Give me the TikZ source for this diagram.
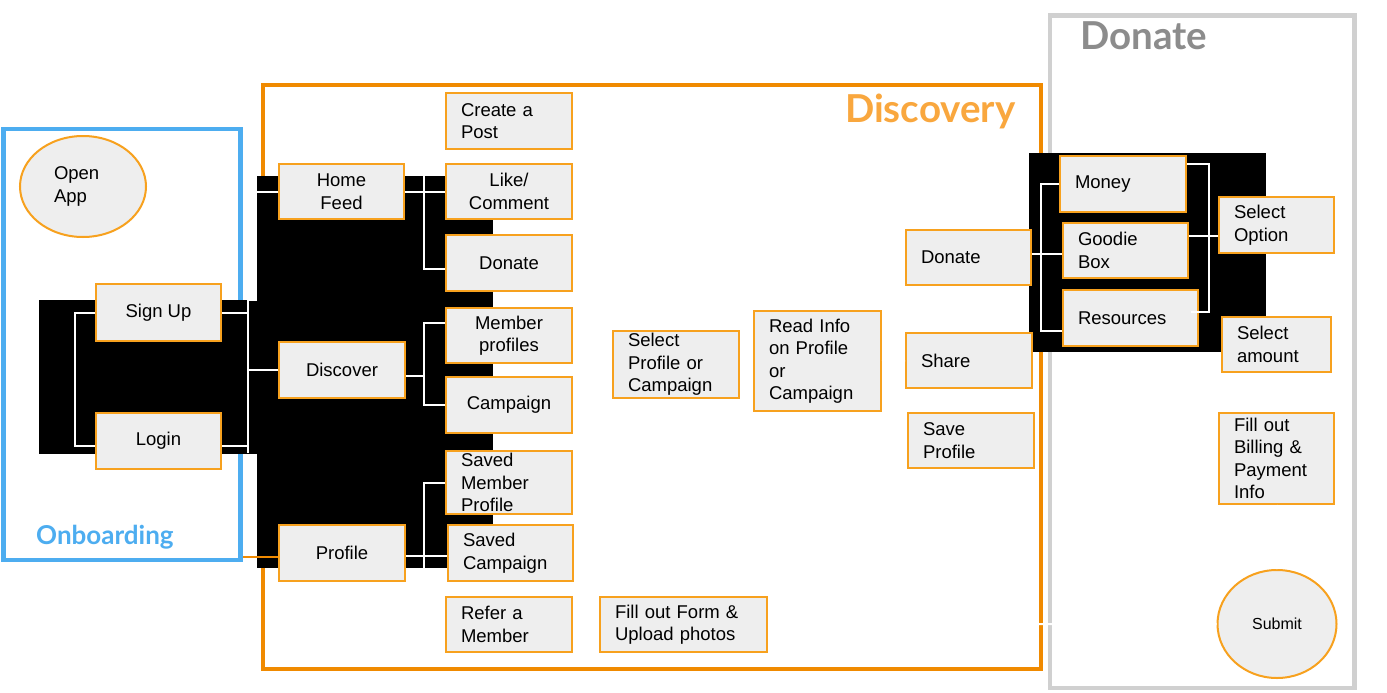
\documentclass[tikz,border=0pt]{standalone}
\usepackage{fontspec}
\setmainfont{Liberation Sans}
\newfontfamily\titlefont{Lato}
\usetikzlibrary{shapes.geometric}
\definecolor{boxorange}{HTML}{F7A11E}
\definecolor{boxfill}{HTML}{EEEEEE}
\definecolor{discframe}{HTML}{F08A00}
\definecolor{disctext}{HTML}{F9A73E}
\definecolor{onbblue}{HTML}{4DADF0}
\definecolor{donframe}{HTML}{D0D0D0}
\definecolor{dontext}{HTML}{8C8C8C}
\newcommand\boxfont{\fontsize{18.5}{22.5}\selectfont}
\tikzset{
  box/.style={draw=boxorange, fill=boxfill, line width=2pt, inner xsep=15pt, inner ysep=0pt, font=\boxfont},
  lbox/.style={box, align=left},
  cbox/.style={box, align=center, inner xsep=0pt},
  ebox/.style={box, ellipse, inner sep=0pt, align=left},
  wire/.style={draw=white, line width=2pt},
  blk/.style={fill=black},
  frame/.style={line width=4.5pt},
  ttl/.style={anchor=base west, inner sep=0pt, font=\titlefont\bfseries\fontsize{38.5}{42}\selectfont},
}
\begin{document}
\begin{tikzpicture}[x=1pt,y=-1pt]
\useasboundingbox (0,0) rectangle (1387,693);
\fill[white] (0,0) rectangle (1387,693);
% frames
\draw[frame, draw=onbblue] (3.5,129) rectangle (240.5,560);
\draw[frame, draw=discframe, line width=4pt] (263,85) rectangle (1040.5,669);
\draw[frame, draw=donframe] (1050,15.5) rectangle (1354.5,688);
% black areas
\fill[blk] (39,300) rectangle (257,454);
\fill[blk] (257,176) rectangle (493,568);
\fill[blk] (1029,153) rectangle (1266,352);
% onboarding
\node[ebox, minimum width=126pt, minimum height=101pt, text width=58pt] (openapp) at (83,186.5) {Open\\App};
\node[cbox, minimum width=125pt, minimum height=57pt] (signup) at (158.5,312.5) {Sign Up};
\node[cbox, minimum width=125pt, minimum height=56pt] (login) at (158.5,441) {Login};
% discovery
\node[cbox, minimum width=125pt, minimum height=55pt] (homefeed) at (341.5,191.5) {Home\\Feed};
\node[cbox, minimum width=126pt, minimum height=56pt] (discover) at (342,370) {Discover};
\node[cbox, minimum width=126pt, minimum height=56pt] (profile) at (342,553) {Profile};
\node[lbox, text width=96pt, minimum height=56pt] (createpost) at (509,121) {Create a\\Post};
\node[cbox, minimum width=126pt, minimum height=55pt] (likec) at (509,191.5) {Like/\\Comment};
\node[cbox, minimum width=126pt, minimum height=56pt] (donatea) at (509,263) {Donate};
\node[cbox, minimum width=126pt, minimum height=55pt] (memberp) at (509,335.5) {Member\\profiles};
\node[cbox, minimum width=126pt, minimum height=56pt] (campaign) at (509,405) {Campaign};
\node[lbox, text width=96pt, minimum height=63pt] (savedm) at (509,482.5) {Saved\\Member\\Profile};
\node[lbox, text width=95pt, minimum height=56pt] (savedc) at (510.5,553) {Saved\\Campaign};
\node[lbox, text width=96pt, minimum height=55pt] (refer) at (509,624.5) {Refer a\\Member};
\node[lbox, text width=137pt, minimum height=55pt] (fillf) at (683.5,624.5) {Fill out Form \&\\Upload photos};
\node[lbox, text width=96pt, minimum height=67pt] (selp) at (676,364.5) {Select\\Profile or\\Campaign};
\node[lbox, text width=97pt, minimum height=100pt] (readi) at (817.5,361) {Read Info\\on Profile\\or\\Campaign};
\node[lbox, text width=95pt, minimum height=55pt] (donateb) at (968.5,257.5) {Donate};
\node[lbox, text width=96pt, minimum height=55pt] (share) at (969,360.5) {Share};
\node[lbox, text width=96pt, minimum height=55pt] (savep) at (971,440.5) {Save\\Profile};
% donate
\node[lbox, text width=96pt, minimum height=56pt] (money) at (1123,184) {Money};
\node[lbox, text width=95pt, minimum height=55pt] (goodie) at (1125.5,250.5) {Goodie\\Box};
\node[lbox, text width=105pt, minimum height=56pt] (resources) at (1130.5,318) {Resources};
\node[lbox, text width=85pt, minimum height=56pt] (selopt) at (1276.5,225) {Select\\Option};
\node[lbox, text width=79pt, minimum height=55pt] (selamt) at (1276.5,344.5) {Select\\amount};
\node[lbox, text width=85pt, minimum height=91pt] (fillb) at (1276.5,458.5) {Fill out\\Billing \&\\Payment\\Info};
\node[box, ellipse, inner sep=0pt, minimum width=119pt, minimum height=108pt, font=\fontsize{16}{19}\selectfont] (submit) at (1277,624) {Submit};
% free ends
\coordinate (jl) at (256,300);
\coordinate (jb) at (248,453);
\coordinate (jh) at (424,176);
\coordinate (jd) at (424,568);
\coordinate (jr) at (894,361);
% wires onboarding
\draw[wire] (signup.west) -- ++(-20,0) |- ([yshift=-5pt]login.west);
\draw[wire] (homefeed.west) -| (jl) -| (jb);
\draw[wire] (signup.east) -- (signup.east -| jb);
\draw[wire] ([yshift=-5pt]login.east) -- ([yshift=-5pt]login.east -| jb);
\draw[wire] (discover.west) -- (discover.west -| jb);
% home feed
\draw[wire] (homefeed.east) -- (likec.west);
\draw[wire] (jh) |- ([yshift=-6pt]donatea.west);
% discover
\draw[wire] ([yshift=-6pt]discover.east) -- ([yshift=-6pt]discover.east -| jh);
\draw[wire] ([yshift=13pt]memberp.west) -| (campaign.west -| jh) -- (campaign.west);
% profile
\draw[wire] ([yshift=-3pt]profile.east) -- ([yshift=-3pt]savedc.west);
\draw[wire] (savedm.west) -| (jd);
\draw[draw=discframe, line width=2pt] (243,557) -- ([yshift=-4pt]profile.west);
% middle
\draw[wire] ([yshift=-11pt]selp.east) -- ([yshift=-11pt]selp.east -| readi.west);
\draw[wire] (readi.east) -- (share.west);
\draw[wire] (jr) |- ([yshift=-5pt]donateb.west);
\draw[wire] (jr) |- ([yshift=-5pt]savep.west);
% donate section
\draw[wire] ([yshift=4pt]donateb.east) -- ([yshift=4pt]donateb.east -| goodie.west);
\draw[wire] (money.west) -| ([yshift=-13pt]resources.west -| 1041,0) -- ([yshift=-13pt]resources.west);
\draw[wire] ([yshift=20pt]money.east) -| ([yshift=6pt]resources.east -| 1209,0) -- ([yshift=6pt,xshift=-8pt]resources.east);
\draw[wire] ([yshift=15pt]goodie.east) -- ([yshift=15pt]goodie.east -| selopt.west);
\draw[wire] (selopt.south) -- (selamt.north);
\draw[wire] (selamt.south) -- (fillb.north);
\draw[wire] (fillb.south) -- (submit.north);
% bottom
\draw[wire] (refer.east) -- (fillf.west);
\draw[wire] (fillf.east) -- (submit.west);
% titles
\node[ttl, text=onbblue, font=\titlefont\bfseries\fontsize{26}{30}\selectfont] (tonb) at (36,544) {Onboarding};
\node[ttl, text=disctext] (tdisc) at (845,122) {Discovery};
\node[ttl, text=dontext] (tdon) at (1080,50) {Donate};
\end{tikzpicture}
\end{document}
